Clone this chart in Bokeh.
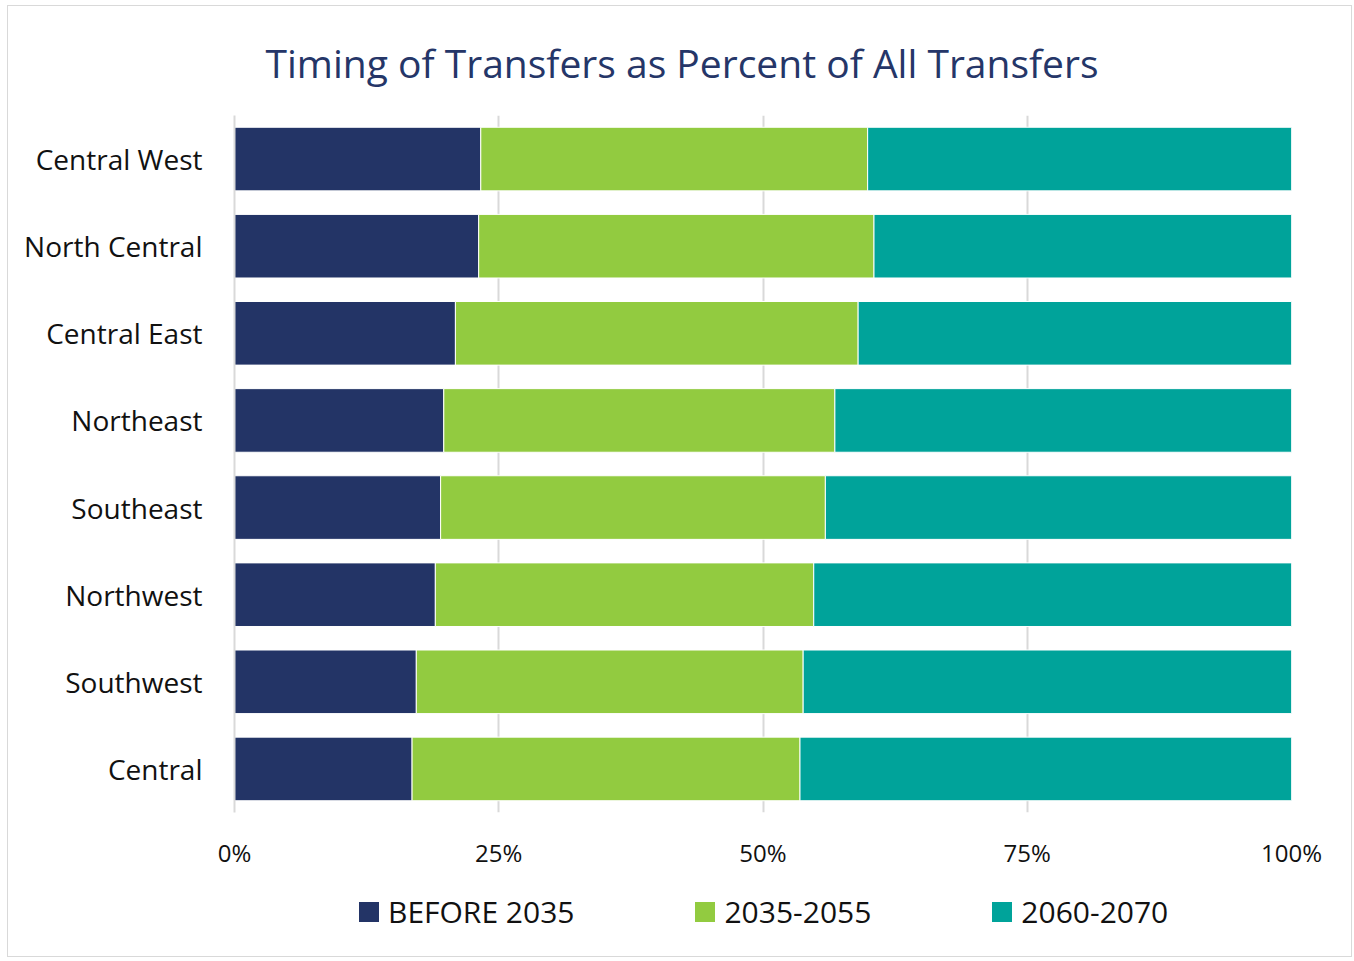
from bokeh.plotting import figure
from bokeh.layouts import column
from bokeh.models import ColumnDataSource, Legend, LegendItem, Title, FactorRange, Range1d, NumeralTickFormatter, FixedTicker
from bokeh.embed import file_html
from bokeh.resources import INLINE

regions = ["Central West", "North Central", "Central East", "Northeast",
           "Southeast", "Northwest", "Southwest", "Central"]
before_2035 = [23.3, 23.1, 20.9, 19.8, 19.5, 19.0, 17.2, 16.8]
y2035_2055 = [36.6, 37.4, 38.1, 37.0, 36.4, 35.8, 36.6, 36.7]
y2060_2070 = [round(100 - a - b, 1) for a, b in zip(before_2035, y2035_2055)]
series = ["BEFORE 2035", "2035-2055", "2060-2070"]
colors = ["#233466", "#92CB40", "#00A39A"]
x_ticks = [0, 25, 50, 75, 100]

FONT = "Open Sans"

src = ColumnDataSource(dict(region=regions, b=before_2035, m=y2035_2055, l=y2060_2070))

p = figure(width=1343, height=874, output_backend="svg", toolbar_location=None,
           y_range=FactorRange(*regions[::-1]), x_range=Range1d(0, 100),
           min_border_left=226, min_border_right=60, min_border_top=108,
           min_border_bottom=68)

p.title = Title(text="Timing of Transfers as Percent of All Transfers",
                align="left", offset=31, standoff=54,
                text_font=FONT, text_font_size="39px", text_font_style="normal",
                text_color="#253668")

rs = p.hbar_stack(["b", "m", "l"], y="region", height=0.73, source=src,
                  color=colors, line_color="white", line_width=1)

p.outline_line_color = None
p.ygrid.grid_line_color = None
p.xgrid.grid_line_color = "#d9d9d9"
p.xgrid.grid_line_width = 2
p.xaxis.ticker = FixedTicker(ticks=x_ticks)
p.xaxis.formatter = NumeralTickFormatter(format="0")
p.xaxis.major_label_overrides = {t: f"{t}%" for t in x_ticks}
p.xaxis.axis_line_color = None
p.xaxis.major_tick_line_color = None
p.xaxis.minor_tick_line_color = None
p.xaxis.major_label_standoff = 17
p.xaxis.major_label_text_font = FONT
p.xaxis.major_label_text_font_size = "24px"
p.xaxis.major_label_text_color = "#111111"

p.yaxis.axis_line_color = "#d9d9d9"
p.yaxis.axis_line_width = 2
p.yaxis.major_tick_line_color = None
p.yaxis.minor_tick_line_color = None
p.yaxis.major_label_standoff = 26
p.yaxis.major_label_text_font = FONT
p.yaxis.major_label_text_font_size = "28px"
p.yaxis.major_label_text_color = "#111111"

# Legend strip below the chart: same stacked bars (zero thickness, out of view),
# so that the legend swatches come from real renderers.
p2 = figure(width=1343, height=76, output_backend="svg", toolbar_location=None,
            y_range=FactorRange(*regions[::-1]), x_range=Range1d(101, 102),
            min_border=0)
p2.axis.visible = False
p2.grid.grid_line_color = None
p2.outline_line_color = None
rs2 = p2.hbar_stack(["b", "m", "l"], y="region", height=0, source=src,
                    color=colors, line_color=None)

legend = Legend(items=[LegendItem(label=s, renderers=[r]) for s, r in zip(series, rs2)],
                orientation="horizontal", location=(122, 24),
                glyph_width=25, glyph_height=25, label_standoff=7, spacing=118,
                label_text_font=FONT, label_text_font_size="30px",
                label_text_color="#111111", border_line_color=None,
                background_fill_alpha=0, padding=0, margin=0)
p2.add_layout(legend)

layout = column(p, p2, spacing=0,
                styles={"border": "1px solid #d9d9d9", "margin-left": "7px", "margin-top": "5px"})

open("out.html", "w").write(file_html(layout, INLINE))
